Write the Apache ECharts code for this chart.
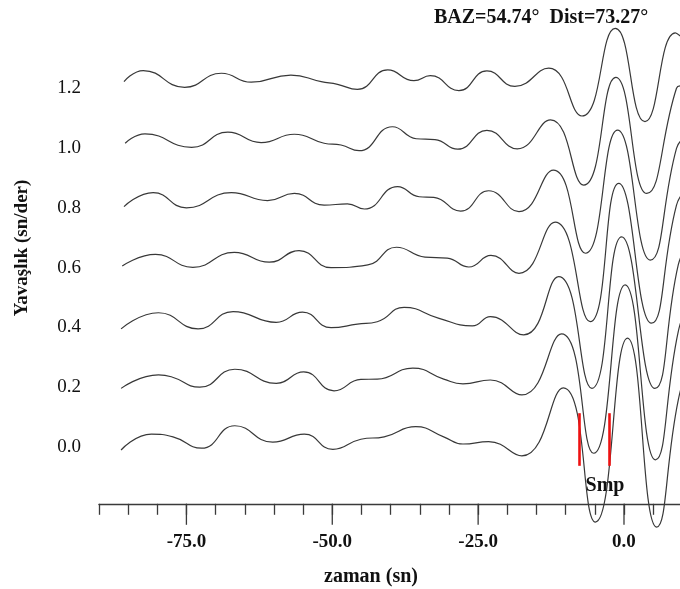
<!DOCTYPE html>
<html>
<head>
<meta charset="utf-8">
<script src="https://cdn.jsdelivr.net/npm/echarts@6/dist/echarts.min.js"></script>
<style>
html,body{margin:0;padding:0;background:#fff;}
#chart{width:680px;height:589px;}
</style>
</head>
<body>
<div id="chart"></div>
<script>
// ---- data ----
const titleText = 'BAZ=54.74°  Dist=73.27°';
const xAxisTitle = 'zaman (sn)';
const yAxisTitle = 'Yavaşlık (sn/der)';
const slownessValues = [0.0, 0.2, 0.4, 0.6, 0.8, 1.0, 1.2];
const yTickLabels = [0.0, 0.2, 0.4, 0.6, 0.8, 1.0, 1.2];
const xMajorTicks = [-75, -50, -25, 0];
const xAllTicks = [-90, -85, -80, -75, -70, -65, -60, -55, -50, -45, -40, -35, -30, -25, -20, -15, -10, -5, 0, 5];
const smpPickTimes = [-7.6, -2.5];
const smpPickRange = [-0.063, 0.113];
const smpLabel = 'Smp';

// trace at slowness 0.0 : times (s) and amplitude about the trace baseline
const t00 = [-86.2, -81.0, -77.3, -72.4, -66.7, -60.2, -54.8, -49.9, -45.1, -41.1, -35.7, -30.9, -27.6, -23.2, -17.5, -10.4, -4.9, 0.6, 5.6, 9.3, 11.7];
const a00 = [-0.010, 0.043, 0.034, -0.004, 0.071, 0.016, 0.043, -0.008, 0.026, 0.034, 0.068, 0.034, 0.010, 0.018, -0.030, 0.198, -0.251, 0.364, -0.268, 0.157, 0.31];
// slowness 0.2
const t02 = [-86.2, -79.8, -77.6, -72.7, -66.7, -59.6, -54.9, -49.7, -45.1, -42.3, -36.2, -30.9, -27.6, -22.9, -17.5, -10.7, -5.2, 0.2, 5.4, 9.3, 11.3];
const a02 = [-0.004, 0.041, 0.035, 0.000, 0.060, 0.013, 0.051, -0.012, 0.026, 0.027, 0.064, 0.027, 0.011, 0.024, -0.026, 0.178, -0.221, 0.342, -0.243, 0.186, 0.29];
// slowness 0.4
const t04 = [-86.2, -79.8, -73.0, -67.0, -59.6, -55.1, -50.2, -45.7, -42.3, -37.7, -31.7, -26.0, -22.9, -17.2, -11.2, -5.5, -0.4, 5.3, 9.3, 11.0];
const a04 = [-0.005, 0.049, -0.005, 0.053, 0.017, 0.051, -0.001, 0.011, 0.019, 0.067, 0.030, 0.005, 0.036, -0.025, 0.170, -0.204, 0.303, -0.204, 0.209, 0.276];
// slowness 0.6
const t06 = [-86.0, -80.3, -73.9, -66.8, -60.8, -55.7, -50.2, -43.9, -39.0, -34.1, -30.3, -26.6, -22.8, -18.0, -11.8, -5.8, -0.9, 4.7, 9.0, 10.7];
const a06 = [0.005, 0.044, 0.001, 0.051, 0.018, 0.057, 0.000, 0.009, 0.068, 0.035, 0.032, 0.002, 0.041, -0.019, 0.152, -0.181, 0.282, -0.186, 0.209, 0.26];
// slowness 0.8
const t08 = [-85.7, -80.7, -75.0, -67.3, -61.1, -56.5, -51.4, -47.4, -44.5, -38.8, -35.1, -32.6, -28.0, -23.2, -18.0, -12.1, -6.6, -1.1, 4.5, 9.0, 10.3];
const a08 = [0.004, 0.051, 0.000, 0.051, 0.024, 0.048, 0.009, 0.013, -0.004, 0.071, 0.037, 0.035, -0.011, 0.057, -0.013, 0.126, -0.152, 0.260, -0.175, 0.199, 0.233];
// slowness 1.0
const t10 = [-85.5, -82.1, -74.1, -67.9, -62.2, -56.5, -51.4, -48.5, -45.4, -39.7, -35.6, -32.4, -28.5, -23.5, -18.3, -12.6, -6.9, -1.4, 3.9, 9.0, 9.8];
const a10 = [0.016, 0.047, 0.002, 0.053, 0.018, 0.046, 0.016, 0.010, -0.009, 0.071, 0.031, 0.028, -0.004, 0.059, -0.003, 0.094, -0.124, 0.236, -0.152, 0.200, 0.208];
// slowness 1.2
const t12 = [-85.7, -82.4, -75.3, -69.0, -63.9, -57.1, -51.9, -49.1, -45.7, -40.5, -36.0, -33.2, -28.3, -23.5, -18.7, -12.9, -7.2, -1.5, 3.6, 8.8, 9.9];
const a12 = [0.022, 0.059, 0.003, 0.050, 0.020, 0.044, 0.022, 0.013, -0.004, 0.061, 0.025, 0.042, -0.008, 0.058, 0.006, 0.067, -0.093, 0.200, -0.112, 0.185, 0.171];

const traceTimes = [t00, t02, t04, t06, t08, t10, t12];
const traceAmps = [a00, a02, a04, a06, a08, a10, a12];

// ---- chart ----
const FONT = "'Liberation Serif', 'Times New Roman', serif";
const Y_MIN = -0.19;
const chart = echarts.init(document.getElementById('chart'), null, {renderer: 'canvas'});
const axisColor = '#3a3a3a';

const series = slownessValues.map((s, k) => {
  const ser = {
    type: 'line',
    name: s.toFixed(1),
    data: traceTimes[k].map((t, i) => [t, s + traceAmps[k][i]]),
    smooth: 0.5,
    symbol: 'none',
    clip: false,
    silent: true,
    animation: false,
    lineStyle: {color: '#383838', width: 1.2}
  };
  if (k === 0) {
    ser.markLine = {
      silent: true,
      symbol: ['none', 'none'],
      animation: false,
      label: {show: false},
      lineStyle: {color: '#ee1111', width: 2.6, type: 'solid'},
      data: smpPickTimes.map(tp => [{coord: [tp, smpPickRange[0]]}, {coord: [tp, smpPickRange[1]]}])
    };
  }
  return ser;
});

// long major ticks below the axis line
series.push({
  type: 'custom',
  silent: true,
  clip: false,
  animation: false,
  z: 10,
  data: xMajorTicks.map(v => [v, Y_MIN]),
  encode: {x: 0, y: 1},
  renderItem: function (params, api) {
    const p = api.coord([api.value(0), api.value(1)]);
    return {
      type: 'rect',
      shape: {x: p[0] - 0.65, y: p[1], width: 1.3, height: 21},
      style: {fill: axisColor}
    };
  }
});

const option = {
  backgroundColor: '#ffffff',
  animation: false,
  title: {
    text: titleText,
    left: 429,
    top: 3,
    textStyle: {fontFamily: FONT, fontWeight: 'bold', fontSize: 20, color: '#111'}
  },
  grid: {left: 98.9, right: -2, top: 28.4, bottom: 85.2, containLabel: false},
  xAxis: {
    type: 'value', min: -90, max: 9.6, position: 'bottom',
    axisLine: {show: true, onZero: false, lineStyle: {color: axisColor, width: 1.3}},
    axisTick: {show: true, length: 11, customValues: xAllTicks, lineStyle: {color: axisColor, width: 1.3}},
    axisLabel: {
      show: true, customValues: xMajorTicks, margin: 29,
      fontFamily: FONT, fontWeight: 'bold', fontSize: 19, color: '#111',
      formatter: v => v.toFixed(1)
    },
    splitLine: {show: false}
  },
  yAxis: {
    type: 'value', min: Y_MIN, max: 1.4,
    axisLine: {show: false},
    axisTick: {show: false},
    splitLine: {show: false},
    axisLabel: {
      show: true, customValues: yTickLabels, margin: 18,
      fontFamily: FONT, fontSize: 19, color: '#111',
      formatter: v => v.toFixed(1)
    }
  },
  graphic: [
    {
      type: 'text', x: 22, y: 248, rotation: Math.PI / 2,
      style: {text: yAxisTitle, font: "bold 19px " + FONT, fill: '#111', align: 'center', verticalAlign: 'middle'}
    },
    {
      type: 'text', x: 371, y: 577,
      style: {text: xAxisTitle, font: "bold 20px " + FONT, fill: '#111', align: 'center', verticalAlign: 'middle'}
    },
    {
      type: 'text', x: 605, y: 486,
      style: {text: smpLabel, font: "bold 20px " + FONT, fill: '#111', align: 'center', verticalAlign: 'middle'}
    }
  ],
  series: series
};
chart.setOption(option);
</script>
</body>
</html>
